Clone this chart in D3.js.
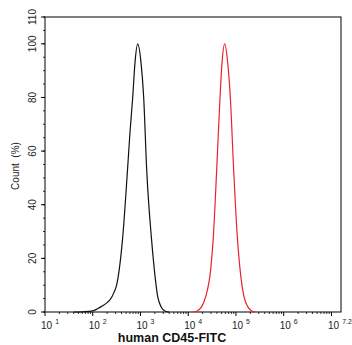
<!DOCTYPE html>
<html>
<head>
<meta charset="utf-8">
<script src="https://cdn.jsdelivr.net/npm/d3@7"></script>
<style>
  body { margin: 0; background: #fff; }
  svg { display: block; font-family: "Liberation Sans", Arial, sans-serif; }
</style>
</head>
<body>
<div id="chart"></div>
<script>
// isotype / control peak (black)
const blackX = [40, 63, 100, 126, 158, 200, 229, 282, 316, 360, 425, 535, 603, 687, 767, 875,
  1026, 1167, 1349, 1687, 1945, 2296, 2692, 3311, 3981];
const blackY = [0, 0.1, 0.4, 1.2, 2.2, 3.5, 4.5, 7.5, 10, 16, 28, 53, 67, 80, 93, 100,
  93, 80, 53, 28, 16, 5.7, 2, 0.3, 0];

// CD45-FITC stained peak (red)
const redX = [12589, 15849, 19143, 23227, 29580, 33574, 39446, 46345, 51050, 58076,
  67143, 76208, 89536, 106660, 121619, 147231, 176198, 208930, 251189];
const redY = [0, 0.5, 2, 5.7, 16, 28, 53, 80, 93, 100, 93, 80, 53, 28, 16, 5.7, 2, 0.5, 0];

const xDecades = [1, 2, 3, 4, 5, 6];
const xMaxExp = 7.2;
const yLabels = [0, 20, 40, 60, 80, 100, 110];
const xTitle = "human CD45-FITC";
const yTitle = "Count\u00a0\u00a0(%)";

const W = 352, H = 345;
const margin = { top: 17, right: 11, bottom: 33, left: 45 };
const width = W - margin.left - margin.right;
const height = H - margin.top - margin.bottom;

const svg = d3.select("#chart").append("svg")
  .attr("width", W).attr("height", H);
const g = svg.append("g")
  .attr("transform", `translate(${margin.left},${margin.top})`);

const x = d3.scaleLog().domain([10, Math.pow(10, xMaxExp)]).range([0, width]);
const y = d3.scaleLinear().domain([0, 110]).range([height, 0]);

// frame
g.append("rect")
  .attr("width", width).attr("height", height)
  .attr("fill", "none").attr("stroke", "#000").attr("stroke-width", 1);

// x ticks
const majorX = xDecades.map(d => Math.pow(10, d)).concat([1e7]);
const minorX = [];
for (let k = 1; k <= 7; k++) {
  for (let m = 2; m <= 9; m++) {
    const v = m * Math.pow(10, k);
    if (v < Math.pow(10, xMaxExp)) minorX.push(v);
  }
}
g.selectAll(".xminor").data(minorX).enter().append("line")
  .attr("x1", d => x(d)).attr("x2", d => x(d))
  .attr("y1", height).attr("y2", height + 2)
  .attr("stroke", "#000").attr("stroke-width", 0.8);
g.selectAll(".xmajor").data(majorX).enter().append("line")
  .attr("x1", d => x(d)).attr("x2", d => x(d))
  .attr("y1", height).attr("y2", height + 4)
  .attr("stroke", "#000").attr("stroke-width", 1);

const xLab = g.selectAll(".xlab").data(xDecades.concat([xMaxExp])).enter().append("text")
  .attr("x", d => x(Math.pow(10, d)) - (d === xMaxExp ? 13 : 4))
  .attr("y", height + 17)
  .attr("font-size", 10)
  .attr("fill", "#222");
xLab.append("tspan").text("10");
xLab.append("tspan").attr("dx", 3).attr("dy", -5).attr("font-size", 7).text(d => d);

// y ticks
const minorY = d3.range(0, 111, 5);
g.selectAll(".yminor").data(minorY).enter().append("line")
  .attr("x1", -2).attr("x2", 0)
  .attr("y1", d => y(d)).attr("y2", d => y(d))
  .attr("stroke", "#000").attr("stroke-width", 0.8);
g.selectAll(".ymajor").data(yLabels).enter().append("line")
  .attr("x1", -4).attr("x2", 0)
  .attr("y1", d => y(d)).attr("y2", d => y(d))
  .attr("stroke", "#000").attr("stroke-width", 1);
g.selectAll(".ylab").data(yLabels).enter().append("text")
  .attr("transform", d => `translate(-9,${y(d)}) rotate(-90)`)
  .attr("text-anchor", "middle")
  .attr("font-size", 10)
  .attr("fill", "#222")
  .text(d => d);

// curves
const line = d3.line()
  .x(d => x(d[0]))
  .y(d => y(d[1]))
  .curve(d3.curveMonotoneX);

g.append("path")
  .datum(d3.zip(blackX, blackY))
  .attr("fill", "none").attr("stroke", "#111").attr("stroke-width", 1.2)
  .attr("d", line);

g.append("path")
  .datum(d3.zip(redX, redY))
  .attr("fill", "none").attr("stroke", "#e8232b").attr("stroke-width", 1.2)
  .attr("d", line);

// titles
svg.append("text")
  .attr("x", 172).attr("y", 342)
  .attr("text-anchor", "middle")
  .attr("font-size", 12.5).attr("font-weight", "bold")
  .attr("fill", "#111")
  .text(xTitle);

svg.append("text")
  .attr("transform", `translate(19,166) rotate(-90)`)
  .attr("text-anchor", "middle")
  .attr("font-size", 10)
  .attr("fill", "#222")
  .text(yTitle);
</script>
</body>
</html>
